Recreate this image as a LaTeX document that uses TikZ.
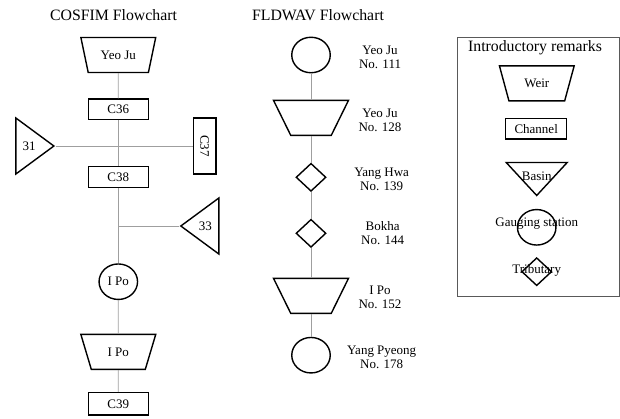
\documentclass[tikz,border=0pt]{standalone}
\usepackage{fontspec}
\setmainfont{Liberation Serif}
\usetikzlibrary{shapes.geometric}

\tikzset{
  shp/.style={draw, line width=1.4pt, inner sep=1pt},
  weir/.style={shp, trapezium, shape border rotate=180, trapezium angle=67,
    trapezium stretches=true, minimum width=75pt, minimum height=35pt},
  channel/.style={shp, rectangle, minimum width=60pt, minimum height=20.5pt},
  basin/.style={shp, isosceles triangle, isosceles triangle stretches,
    minimum width=56pt, minimum height=38pt},
  gauge/.style={shp, ellipse, minimum width=38.5pt, minimum height=35.5pt},
  tributary/.style={shp, diamond, minimum width=30pt, minimum height=28pt},
  link/.style={draw=gray!75, line width=0.8pt},
  frame/.style={draw=black!65, line width=0.9pt},
  heading/.style={font=\fontsize{15.8}{18}\selectfont},
  site/.style={align=center, font=\fontsize{13}{14}\selectfont},
}

\begin{document}
\begin{tikzpicture}[x=1pt, y=-1pt, every node/.style={font=\fontsize{13}{14}\selectfont}]
    \useasboundingbox (0,0) rectangle (620,418);

    % COSFIM
    \node[heading] (cosfim) at (113.5,15) {COSFIM Flowchart};
    \node[weir] (yeojuW) at (118.3,55) {Yeo Ju};
    \node[channel] (c36) at (118.3,109.2) {C36};
    \node[basin, anchor=apex] (b31) at (55.7,146) {31};
    \node[channel, rotate=-90, minimum width=55.7pt, minimum height=22.7pt] (c37) at (204.7,146) {C37};
    \node[channel] (c38) at (118.3,177) {C38};
    \node[basin, shape border rotate=180, anchor=apex] (b33) at (179,226) {33};
    \node[gauge] (ipoG) at (118.3,281.7) {I Po};
    \node[weir] (ipoW) at (118.3,351.8) {I Po};
    \node[channel, minimum height=22.3pt] (c39) at (118.3,403.8) {C39};

    \draw[link] (yeojuW) -- (c36);
    \draw[link] (c36) -- (c38);
    \draw[link] (b31.apex) -- (c37);
    \draw[link] (c38) -- (ipoG);
    \draw[link] (b33.apex) -- (b33.apex -| c38.south);
    \draw[link] (ipoG) -- (ipoW);
    \draw[link] (ipoW) -- (c39);

    % FLDWAV
    \node[heading] (fldwav) at (318,15) {FLDWAV Flowchart};
    \node[gauge] (f111) at (311,55) {};
    \node[weir] (f128) at (311,117.8) {};
    \node[tributary] (f139) at (311,177.3) {};
    \node[tributary] (f144) at (311,233.3) {};
    \node[weir] (f152) at (311,295.8) {};
    \node[gauge] (f178) at (311,355.2) {};

    \draw[link] (f111) -- (f128);
    \draw[link] (f128) -- (f139);
    \draw[link] (f139) -- (f144);
    \draw[link] (f144) -- (f152);
    \draw[link] (f152) -- (f178);

    \node[site] (l111) at (380,57) {Yeo Ju\\No. 111};
    \node[site] (l128) at (380,120) {Yeo Ju\\No. 128};
    \node[site] (l139) at (381.7,179) {Yang Hwa\\No. 139};
    \node[site] (l144) at (382.7,233) {Bokha\\No. 144};
    \node[site] (l152) at (380,297) {I Po\\No. 152};
    \node[site] (l178) at (381.7,357) {Yang Pyeong\\No. 178};

    % Introductory remarks
    \draw[frame] (457.3,37.3) rectangle (619.2,296);
    \node[heading] (remarks) at (535,48) {Introductory remarks};
    \node[weir] (kWeir) at (536.8,83.3) {Weir};
    \node[channel, minimum width=61pt] (kChannel) at (536.2,128.7) {Channel};
    \node[basin, shape border rotate=270, anchor=apex, minimum width=61pt, minimum height=33pt] (kBasin) at (536.7,197.3) {};
    \node (kBasinT) at (536.7,176) {Basin};
    \node[gauge] (kGauge) at (536.7,227.3) {};
    \node (kGaugeT) at (536.7,224) {Gauging station};
    \node[tributary] (kTrib) at (536.7,271.7) {};
    \node (kTribT) at (536.7,270.7) {Tributary};
\end{tikzpicture}
\end{document}
